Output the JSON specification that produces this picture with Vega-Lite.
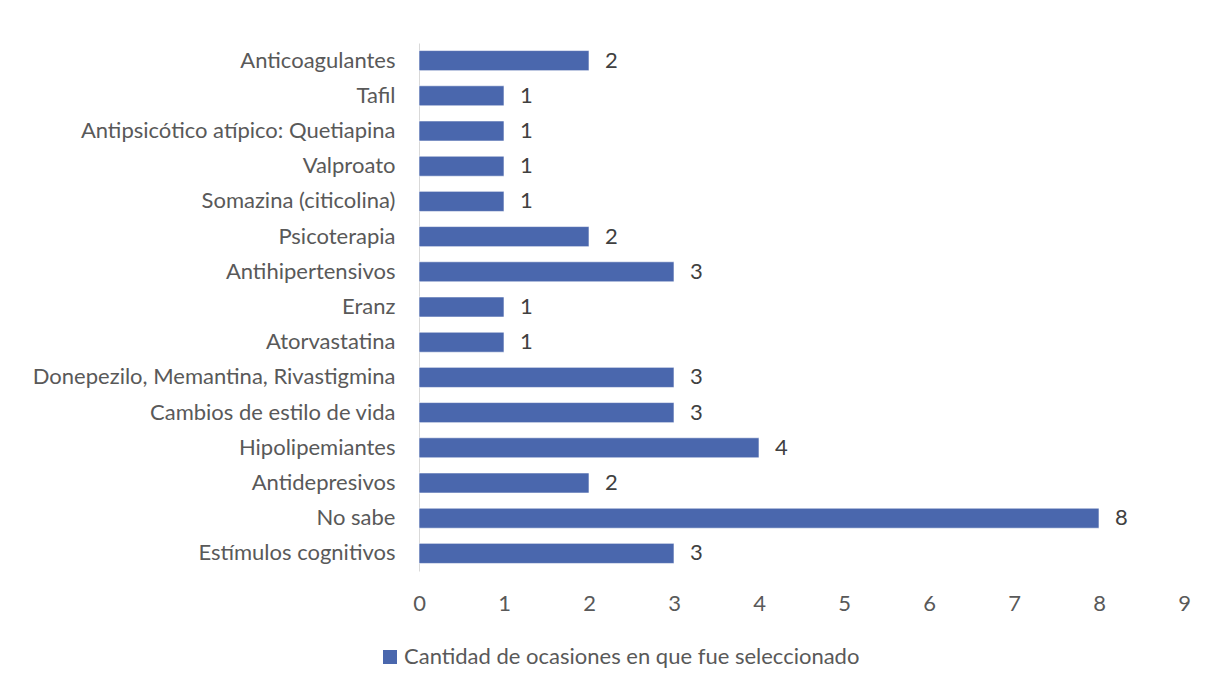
{
  "$schema": "https://vega.github.io/schema/vega-lite/v6.json",
  "autosize": {"type": "none"},
  "padding": {"left": 419, "top": 43, "right": 21, "bottom": 116},
  "width": 765,
  "height": 528,
  "background": "white",
  "config": {"view": {"stroke": null}, "font": "Lato"},
  "data": {"values": [
    {"categoria": "Anticoagulantes", "valor": 2},
    {"categoria": "Tafil", "valor": 1},
    {"categoria": "Antipsicótico atípico: Quetiapina", "valor": 1},
    {"categoria": "Valproato", "valor": 1},
    {"categoria": "Somazina (citicolina)", "valor": 1},
    {"categoria": "Psicoterapia", "valor": 2},
    {"categoria": "Antihipertensivos", "valor": 3},
    {"categoria": "Eranz", "valor": 1},
    {"categoria": "Atorvastatina", "valor": 1},
    {"categoria": "Donepezilo, Memantina, Rivastigmina", "valor": 3},
    {"categoria": "Cambios de estilo de vida", "valor": 3},
    {"categoria": "Hipolipemiantes", "valor": 4},
    {"categoria": "Antidepresivos", "valor": 2},
    {"categoria": "No sabe", "valor": 8},
    {"categoria": "Estímulos cognitivos", "valor": 3}
  ]},
  "encoding": {
    "y": {"field": "categoria", "type": "nominal", "sort": null,
      "scale": {"paddingInner": 0.43, "paddingOuter": 0.215},
      "axis": {"title": null, "ticks": false, "domain": true, "domainColor": "#d9d9d9", "domainWidth": 1,
        "labelFont": "Lato", "labelFontSize": 22, "labelColor": "#595959", "labelPadding": 24, "labelLimit": 420}},
    "x": {"field": "valor", "type": "quantitative",
      "scale": {"domain": [0, 9], "nice": false},
      "axis": {"title": null, "grid": false, "ticks": false, "domain": false, "values": [0,1,2,3,4,5,6,7,8,9],
        "labelOverlap": false, "labelFlush": false,
        "labelFont": "Lato", "labelFontSize": 22, "labelColor": "#595959", "labelPadding": 32, "labelBaseline": "middle"}}
  },
  "layer": [
    {"mark": {"type": "bar", "stroke": "#ffffff", "strokeWidth": 0.6},
     "encoding": {"color": {"datum": "Cantidad de ocasiones en que fue seleccionado", "type": "nominal",
        "scale": {"range": ["#4a67ad"]},
        "legend": {"title": null, "orient": "none", "legendX": -40, "legendY": 603, "padding": 0, "symbolType": "square", "symbolSize": 196,
          "symbolStrokeWidth": 0, "labelFont": "Lato", "labelFontSize": 22, "labelColor": "#595959", "labelOffset": 3, "labelLimit": 700}}}},
    {"mark": {"type": "text", "align": "left", "baseline": "middle", "dx": 16, "font": "Lato", "fontSize": 22, "color": "#404040"},
     "encoding": {"text": {"field": "valor", "type": "quantitative"}}}
  ]
}
